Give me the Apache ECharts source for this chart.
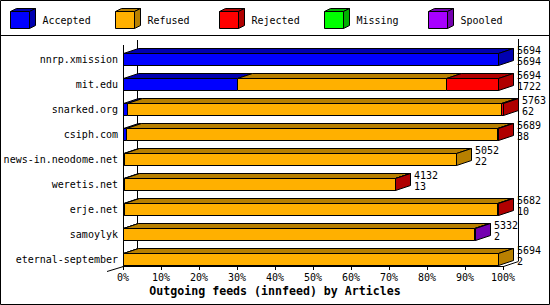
<!DOCTYPE html>
<html><head><meta charset="utf-8">
<script src="https://cdn.jsdelivr.net/npm/echarts@6/dist/echarts.min.js"></script>
<style>html,body{margin:0;padding:0;background:#fff}#c{width:550px;height:305px}</style>
</head><body><div id="c"></div>
<script>
const categories = ['nnrp.xmission','mit.edu','snarked.org','csiph.com','news-in.neodome.net','weretis.net','erje.net','samoylyk','eternal-september'];
const seriesNames = ['Accepted','Refused','Rejected','Missing','Spooled'];
const totals   = [5694, 5694, 5763, 5689, 5052, 4132, 5682, 5332, 5694];
const accepted = [5694, 1722,   62,   38,   22,   13,   10,    2,    2];
const refused  = [   0, 3179, 5676, 5641, 5030, 4111, 5667, 5327, 5692];
const rejected = [   0,  793,   25,   10,    0,    8,    5,    0,    0];
const missing  = [   0,    0,    0,    0,    0,    0,    0,    0,    0];
const spooled  = [   0,    0,    0,    0,    0,    0,    0,    3,    0];
const xTickLabels = ['0%','10%','20%','30%','40%','50%','60%','70%','80%','90%','100%'];
const colors     = ['#0000ff','#ffb000','#ff0000','#00ff00','#a800ff'];
const darkColors = ['#0000b0','#b88000','#b00000','#00b000','#7400b0'];

const FONT = '"DejaVu Sans Mono", monospace';
const GL = 123, GT = 41, GW = 380, GH = 225;
const DX = 15, DY = -5, FH = 12;

const segValues = [accepted, refused, rejected, missing, spooled];
const maxTotal = Math.max(...totals);

const lastSeg = categories.map((_, c) => {
  let l = 0;
  segValues.forEach((arr, s) => { if (arr[c] > 0) l = s; });
  return l;
});

function buildData(s) {
  const out = [];
  categories.forEach((_, c) => {
    let cum = 0;
    for (let k = 0; k < s; k++) cum += segValues[k][c];
    const v = segValues[s][c];
    if (v > 0) out.push([cum / maxTotal * 100, (cum + v) / maxTotal * 100, c, lastSeg[c] === s ? 1 : 0]);
  });
  return out;
}

function makeRender(s) {
  return function (params, api) {
    const st = api.value(0), en = api.value(1), c = api.value(2), last = api.value(3);
    const a = api.coord([st, c]), b = api.coord([en, c]);
    const x0 = Math.round(a[0]) + 0.5;
    const x1 = Math.max(x0, Math.round(b[0]) + 0.5);
    const y0 = Math.round(a[1] - 0.5) + 0.5;
    const stroke = { stroke: '#000', lineWidth: 1 };
    const children = [
      { type: 'polygon', shape: { points: [[x0, y0], [x1, y0], [x1 + DX, y0 + DY], [x0 + DX, y0 + DY]] },
        style: Object.assign({ fill: darkColors[s] }, stroke) },
      { type: 'rect', shape: { x: x0, y: y0, width: x1 - x0, height: FH },
        style: Object.assign({ fill: colors[s] }, stroke) }
    ];
    if (last) {
      children.push({ type: 'polygon', shape: { points: [[x1, y0], [x1 + DX, y0 + DY], [x1 + DX, y0 + DY + FH], [x1, y0 + FH]] },
        style: Object.assign({ fill: darkColors[s] }, stroke) });
    }
    return { type: 'group', children };
  };
}

const series = seriesNames.map((name, s) => ({
  name, type: 'custom', renderItem: makeRender(s),
  encode: { x: [0, 1], y: 2 }, data: buildData(s), z: 3
}));

series.push({
  name: 'labels', type: 'custom', z: 4,
  encode: { x: 0, y: 1 },
  data: categories.map((_, c) => [totals[c] / maxTotal * 100, c, totals[c], accepted[c]]),
  renderItem: function (params, api) {
    const p = api.coord([api.value(0), api.value(1)]);
    return { type: 'text', x: Math.round(p[0]) + DX + 4, y: p[1] - 9,
      style: { text: api.value(2) + '\n' + api.value(3), font: '10px ' + FONT, fill: '#000',
        lineHeight: 11, verticalAlign: 'top', align: 'left' } };
  }
});

const graphic = [
  { type: 'rect', shape: { x: 0.5, y: 0.5, width: 549, height: 304 }, style: { fill: 'none', stroke: '#000', lineWidth: 1 }, z: 1 },
  { type: 'line', shape: { x1: 0, y1: 35.5, x2: 550, y2: 35.5 }, style: { stroke: '#000', lineWidth: 1 }, z: 1 },
  { type: 'line', shape: { x1: GL + 0.5, y1: GT + 4, x2: GL + 0.5, y2: GT + GH }, style: { stroke: '#000', lineWidth: 1 }, z: 1 },
  { type: 'line', shape: { x1: GL + DX - 0.5, y1: GT - 1, x2: GL + DX - 0.5, y2: GT + GH + DY }, style: { stroke: '#000', lineWidth: 1 }, z: 1 },
  { type: 'line', shape: { x1: GL + GW + DX + 0.5, y1: GT - 2, x2: GL + GW + DX + 0.5, y2: GT + GH + DY }, style: { stroke: '#000', lineWidth: 1 }, z: 1 },
  { type: 'line', shape: { x1: GL + GW + 0.5, y1: GT + GH + 0.5, x2: GL + GW + DX + 0.5, y2: GT + GH + DY + 0.5 }, style: { stroke: '#000', lineWidth: 1 }, z: 1 },
  { type: 'line', shape: { x1: GL - 16, y1: GT + GH + 5.5, x2: GL + 0.5, y2: GT + GH + 0.5 }, style: { stroke: '#000', lineWidth: 1 }, z: 1 }
];
seriesNames.forEach((name, s) => {
  const bx = Math.round(10 + s * 104.5) + 0.5, by = 11.5, w = 19, h = 17, dx = 6, dy = -3;
  graphic.push(
    { type: 'polygon', shape: { points: [[bx, by], [bx + dx, by + dy], [bx + w + dx, by + dy], [bx + w, by]] }, style: { fill: darkColors[s], stroke: '#000', lineWidth: 1 }, z: 2 },
    { type: 'polygon', shape: { points: [[bx + w, by], [bx + w + dx, by + dy], [bx + w + dx, by + dy + h], [bx + w, by + h]] }, style: { fill: darkColors[s], stroke: '#000', lineWidth: 1 }, z: 2 },
    { type: 'rect', shape: { x: bx, y: by, width: w, height: h }, style: { fill: colors[s], stroke: '#000', lineWidth: 1 }, z: 2 },
    { type: 'text', x: bx + 32, y: 20, style: { text: name, font: '10px ' + FONT, fill: '#000', verticalAlign: 'middle' }, z: 2 }
  );
});

const chart = echarts.init(document.getElementById('c'), null, { renderer: 'svg' });
chart.setOption({
  animation: false,
  backgroundColor: '#fff',
  title: { text: 'Outgoing feeds (innfeed) by Articles', left: 'center', top: 285, padding: 0,
    textStyle: { fontFamily: FONT, fontWeight: 'bold', fontSize: 11.6, color: '#000' } },
  grid: { left: GL, top: GT, width: GW, height: GH },
  xAxis: { type: 'value', min: 0, max: 100, interval: 10,
    axisLine: { show: true, lineStyle: { color: '#000', width: 1 } },
    axisTick: { show: true, length: 4, lineStyle: { color: '#000' } },
    splitLine: { show: false },
    axisLabel: { margin: 6, color: '#000', fontFamily: FONT, fontSize: 10,
      formatter: v => xTickLabels[Math.round(v / 10)] } },
  yAxis: { type: 'category', data: categories, inverse: true,
    axisLine: { show: false }, axisTick: { show: false }, splitLine: { show: false },
    axisLabel: { margin: 5, color: '#000', fontFamily: FONT, fontSize: 10, verticalAlign: 'top', lineHeight: 12 } },
  graphic,
  series
});
</script></body></html>
